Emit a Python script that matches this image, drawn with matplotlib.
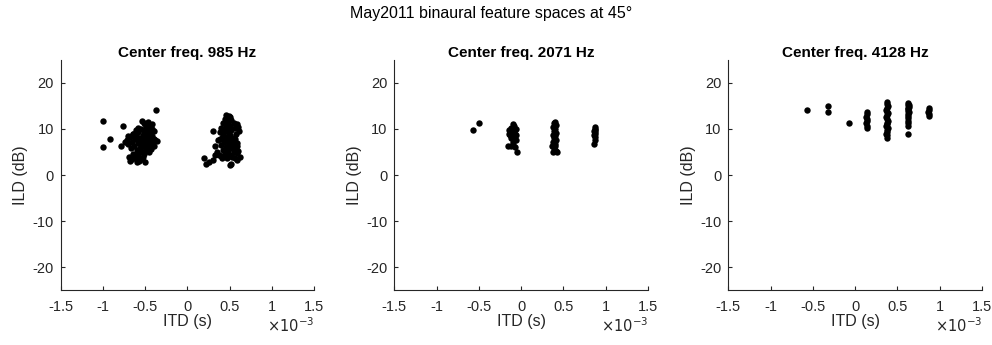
import numpy as np
import matplotlib
matplotlib.use("Agg")
import matplotlib.pyplot as plt

plt.rcParams['font.family'] = ['Liberation Sans', 'DejaVu Sans']
plt.rcParams['axes.unicode_minus'] = False

# ITD values in units of 1e-3 s, ILD in dB
# 985 Hz
itd_985 = [-1.00, -1.00, -0.92, -0.76, -0.79, -0.37, -0.54, -0.50, -0.68, -0.60, -0.50,
           -0.72, -0.70, -0.68, -0.67, -0.66, -0.65, -0.64, -0.63, -0.62, -0.61, -0.60, -0.60,
           -0.59, -0.58, -0.58, -0.57, -0.56, -0.56, -0.55, -0.55, -0.54, -0.54, -0.53, -0.53,
           -0.52, -0.52, -0.51, -0.51, -0.50, -0.50, -0.49, -0.49, -0.48, -0.48, -0.47, -0.47,
           -0.46, -0.46, -0.45, -0.45, -0.44, -0.44, -0.43, -0.43, -0.42, -0.42, -0.41, -0.40,
           -0.40, -0.69, -0.66, -0.62, -0.57, -0.64, -0.59, -0.40, -0.38, -0.36, -0.42, -0.47,
           -0.52, -0.61, -0.70, -0.74, -0.57, -0.53, -0.49, -0.44,
           0.20, 0.26, 0.22, 0.30, 0.32, 0.50, 0.52, 0.58, 0.62, 0.56, 0.30, 0.33, 0.60, 0.48,
           0.46, 0.50, 0.44, 0.52, 0.48, 0.42, 0.55, 0.46, 0.50, 0.40, 0.56, 0.44, 0.52, 0.38,
           0.48, 0.57, 0.42, 0.50, 0.45, 0.55, 0.39, 0.47, 0.53, 0.43, 0.58, 0.49, 0.40, 0.54,
           0.45, 0.51, 0.57, 0.42, 0.48, 0.55, 0.44, 0.50, 0.59, 0.40, 0.53, 0.47, 0.36, 0.35,
           0.37, 0.41, 0.60, 0.61, 0.59, 0.45, 0.51, 0.47, 0.52, 0.43, 0.49, 0.54, 0.56, 0.41,
           0.46, 0.58]
ild_985 = [11.8, 6.1, 7.9, 10.7, 6.4, 14.1, 11.8, 11.1, 3.1, 2.9, 2.9,
           7.5, 6.8, 8.2, 5.9, 7.1, 9.0, 4.6, 6.3, 7.8, 8.6, 5.4, 3.6,
           6.9, 9.3, 4.2, 7.4, 5.8, 8.0, 6.5, 10.0, 3.4, 7.1, 8.7, 5.1,
           6.2, 9.6, 7.7, 4.5, 8.3, 6.0, 10.3, 7.0, 5.5, 8.9, 6.6, 9.9,
           7.4, 4.9, 8.1, 10.6, 6.8, 9.2, 7.6, 5.6, 10.1, 8.5, 7.2, 9.5,
           6.3, 4.0, 3.5, 4.3, 3.0, 8.9, 10.2, 7.9, 7.6, 7.3, 11.0, 11.5,
           11.2, 9.7, 8.5, 7.2, 5.0, 4.0, 5.9, 6.1,
           3.6, 2.9, 2.5, 3.3, 4.3, 2.2, 2.5, 3.3, 4.0, 3.6, 9.6, 6.3, 10.5, 12.7,
           13.0, 12.6, 12.2, 12.0, 11.6, 11.3, 11.2, 10.9, 10.6, 10.3, 10.2, 9.9, 9.7, 9.4,
           9.3, 9.0, 8.8, 8.6, 8.3, 8.1, 7.9, 7.7, 7.5, 7.2, 7.0, 6.8, 6.6, 6.4,
           6.1, 5.9, 5.6, 5.4, 5.2, 4.9, 4.6, 4.4, 4.8, 4.2, 3.9, 3.6, 7.5, 5.0,
           4.4, 3.8, 5.3, 9.5, 11.0, 10.0, 8.0, 6.0, 4.2, 9.6, 12.9, 6.8, 7.8, 8.0,
           5.0, 6.2]

# 2071 Hz
itd_2071 = [-0.57, -0.50,
            -0.10, -0.08, -0.12, -0.06, -0.14, -0.09, -0.11, -0.07, -0.13, -0.10, -0.08,
            -0.12, -0.06, -0.15, -0.12, -0.09, -0.07, -0.05, -0.10, -0.14, -0.06,
            0.40, 0.39, 0.41, 0.38, 0.40, 0.39, 0.41, 0.38, 0.40, 0.39, 0.41, 0.38, 0.40,
            0.37, 0.39, 0.41, 0.38, 0.42, 0.40, 0.39,
            0.87, 0.88, 0.86, 0.88, 0.87, 0.86, 0.87, 0.87, 0.86, 0.88]
ild_2071 = [9.8, 11.3,
            11.0, 10.6, 10.3, 10.0, 9.8, 9.6, 9.3, 9.0, 8.8, 8.5, 8.2,
            8.0, 7.7, 6.4, 6.3, 6.6, 6.0, 5.0, 7.2, 9.0, 8.6,
            11.6, 11.2, 10.8, 10.4, 10.0, 9.6, 9.2, 8.8, 8.4, 8.0, 7.6, 7.2, 6.8,
            6.2, 5.9, 5.2, 5.0, 5.1, 6.4, 8.6,
            10.4, 10.0, 9.6, 9.3, 9.0, 8.6, 8.2, 7.6, 6.8, 9.8]

# 4128 Hz
itd_4128 = [-0.57, -0.32, -0.32, -0.07,
            0.14, 0.14, 0.13, 0.14, 0.14, 0.13, 0.14, 0.14,
            0.38, 0.38, 0.39, 0.38, 0.37, 0.38, 0.39, 0.38, 0.37, 0.38, 0.39, 0.38,
            0.38, 0.37, 0.39, 0.38, 0.38, 0.37, 0.38, 0.38,
            0.63, 0.62, 0.64, 0.63, 0.62, 0.64, 0.63, 0.63, 0.62, 0.63, 0.63, 0.63,
            0.63, 0.64, 0.62,
            0.87, 0.88, 0.86, 0.87, 0.87]
ild_4128 = [14.1, 14.9, 13.6, 11.2,
            13.8, 13.2, 12.7, 12.2, 11.7, 11.2, 10.7, 10.3,
            15.9, 15.4, 15.0, 14.6, 14.2, 13.8, 13.4, 13.0, 12.6, 12.2, 11.8, 11.4,
            11.0, 10.6, 10.2, 9.8, 9.4, 9.0, 8.6, 8.1,
            15.6, 15.2, 14.8, 14.4, 14.0, 13.6, 13.2, 12.8, 12.3, 11.8, 11.3, 10.6,
            9.0, 15.3, 14.6,
            14.5, 14.1, 13.7, 13.3, 12.9]

freqs = [985, 2071, 4128]
itds = [itd_985, itd_2071, itd_4128]
ilds = [ild_985, ild_2071, ild_4128]

xticks = [-1.5, -1, -0.5, 0, 0.5, 1, 1.5]
xticklabels = ['-1.5', '-1', '-0.5', '0', '0.5', '1', '1.5']
yticks = [-20, -10, 0, 10, 20]

axcol = '#262626'
fig = plt.figure(figsize=(9.92, 3.45), dpi=100)
lefts = [0.0612, 0.3975, 0.7342]

for i in range(3):
    ax = fig.add_axes([lefts[i], 0.1594, 0.2556, 0.6667])
    ax.plot(itds[i], ilds[i], 'o', color='black', ms=4.6, mew=0)
    ax.set_xlim(-1.5, 1.5)
    ax.set_ylim(-25, 25)
    ax.set_xticks(xticks)
    ax.set_xticklabels(xticklabels)
    ax.set_yticks(yticks)
    for s in ['top', 'right']:
        ax.spines[s].set_visible(False)
    for s in ['left', 'bottom']:
        ax.spines[s].set_color(axcol)
        ax.spines[s].set_linewidth(0.8)
    ax.tick_params(direction='in', length=3, width=0.8, colors=axcol, labelsize=10.5)
    ax.tick_params(axis='x', pad=7)
    ax.tick_params(axis='y', pad=5)
    ax.set_xlabel('ITD (s)', fontsize=11.5, color=axcol, labelpad=0)
    ax.set_ylabel('ILD (dB)', fontsize=11.5, color=axcol, labelpad=3)
    ax.set_title('Center freq. %d Hz' % freqs[i], fontsize=11, fontweight='bold', pad=2.5)
    ax.text(1.0, -0.155, r'$\times10^{-3}$', transform=ax.transAxes, ha='right', va='center',
            fontsize=10.5, color=axcol)

fig.text(0.495, 0.962, 'May2011 binaural feature spaces at 45°', ha='center', va='center', fontsize=11.5)

plt.savefig('out.png', dpi=100)
